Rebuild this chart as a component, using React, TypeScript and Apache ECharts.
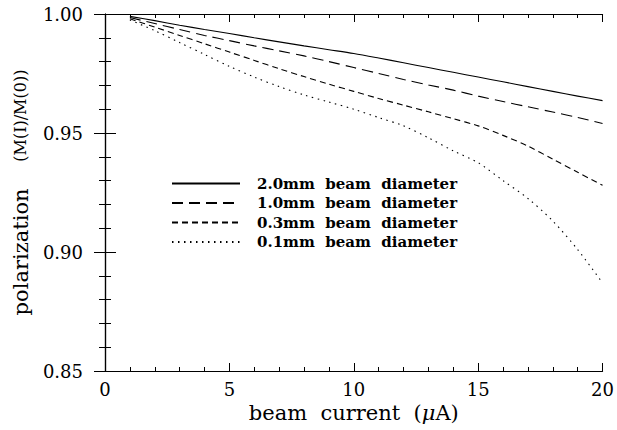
import React, { useEffect, useRef } from "react";
import * as echarts from "echarts";

const currents = [1, 2, 3, 4, 5, 6, 7, 8, 9, 10, 11, 12, 13, 14, 15, 16, 17, 18, 19, 20];
const d20 = [0.999, 0.9972, 0.9953, 0.9935, 0.9918, 0.99, 0.9883, 0.9866, 0.985, 0.9834, 0.9815, 0.9795, 0.9775, 0.9755, 0.9735, 0.9715, 0.9695, 0.9675, 0.9655, 0.9636];
const d10 = [0.9985, 0.996, 0.9935, 0.991, 0.9888, 0.9866, 0.9845, 0.9824, 0.98, 0.9775, 0.975, 0.9725, 0.9702, 0.968, 0.9655, 0.9632, 0.961, 0.9588, 0.9565, 0.954];
const d03 = [0.998, 0.9945, 0.991, 0.9875, 0.984, 0.9805, 0.977, 0.9737, 0.9705, 0.9675, 0.9645, 0.9617, 0.9589, 0.956, 0.953, 0.949, 0.9445, 0.939, 0.9335, 0.928];
const d01 = [0.9975, 0.993, 0.988, 0.983, 0.978, 0.9735, 0.9695, 0.966, 0.963, 0.96, 0.9565, 0.953, 0.948, 0.9425, 0.9375, 0.93, 0.9225, 0.913, 0.901, 0.887];
const seriesNames = ["2.0mm  beam  diameter", "1.0mm  beam  diameter", "0.3mm  beam  diameter", "0.1mm  beam  diameter"];
const seriesData = [d20, d10, d03, d01];
const dashes: any[] = ["solid", [11, 6], [6, 4], [1.5, 4.5]];

const FONT = "DejaVu Serif";

export default function App() {
  const ref = useRef<HTMLDivElement>(null);
  useEffect(() => {
    const chart = echarts.init(ref.current!, null, { renderer: "svg" });
    const axisBase = {
      axisLine: { show: true, lineStyle: { color: "#000", width: 1.2 } },
      splitLine: { show: false },
    };
    chart.setOption({
      animation: false,
      backgroundColor: "#fff",
      grid: { left: 105, right: 11, top: 14, bottom: 59 },
      legend: {
        orient: "vertical",
        left: 166,
        top: 171,
        itemWidth: 68,
        itemHeight: 10,
        itemGap: 4.5,
        data: seriesNames,
        itemStyle: { opacity: 0 },
        textStyle: {
          fontFamily: FONT,
          fontWeight: "bold",
          fontSize: 15,
          color: "#000",
          padding: [0, 0, 0, 12],
        },
      },
      xAxis: [
        {
          ...axisBase,
          type: "value",
          min: 0,
          max: 20,
          interval: 5,
          name: "beam  current  ({i|μ}A)",
          nameLocation: "middle",
          nameGap: 31,
          nameTextStyle: {
            fontFamily: FONT,
            fontSize: 21,
            color: "#000",
            rich: { i: { fontFamily: FONT, fontStyle: "italic", fontSize: 21, color: "#000" } },
          },
          axisTick: { show: true, inside: true, length: 8, lineStyle: { color: "#000" } },
          minorTick: { show: true, splitNumber: 5, length: 4, lineStyle: { color: "#000" } },
          axisLabel: { fontFamily: FONT, fontSize: 18, color: "#000", margin: 9 },
        },
        {
          ...axisBase,
          type: "value",
          position: "top",
          min: 0,
          max: 20,
          interval: 5,
          axisTick: { show: true, inside: true, length: 8, lineStyle: { color: "#000" } },
          minorTick: { show: true, splitNumber: 5, length: 4, lineStyle: { color: "#000" } },
          axisLabel: { show: false },
        },
      ],
      yAxis: [
        {
          ...axisBase,
          type: "value",
          min: 0.85,
          max: 1.0,
          interval: 0.05,
          name: "polarization    {s|(M(I)/M(0))}",
          nameLocation: "middle",
          nameGap: 74,
          nameTextStyle: {
            fontFamily: FONT,
            fontSize: 21,
            color: "#000",
            rich: { s: { fontFamily: FONT, fontSize: 16, color: "#000" } },
          },
          axisTick: { show: true, inside: true, length: 11, lineStyle: { color: "#000" } },
          minorTick: { show: true, splitNumber: 5, length: 6, lineStyle: { color: "#000" } },
          axisLabel: {
            fontFamily: FONT,
            fontSize: 18,
            color: "#000",
            margin: 22,
            formatter: (v: number) => v.toFixed(2),
          },
        },
        {
          ...axisBase,
          type: "value",
          position: "right",
          min: 0.85,
          max: 1.0,
          interval: 0.05,
          axisTick: { show: true, inside: true, length: 11, lineStyle: { color: "#000" } },
          minorTick: { show: true, splitNumber: 5, length: 6, lineStyle: { color: "#000" } },
          axisLabel: { show: false },
        },
      ],
      series: seriesNames.map((name, i) => ({
        name,
        type: "line",
        showSymbol: false,
        symbol: "none",
        smooth: 0.3,
        data: currents.map((c, j) => [c, seriesData[i][j]]),
        lineStyle: { color: "#000", width: 1.1, type: dashes[i] },
        itemStyle: { color: "#000" },
      })),
    });
    return () => chart.dispose();
  }, []);
  return (
    <div
      ref={ref}
      style={{ position: "absolute", left: 0, top: 0, width: 617, height: 430, background: "#fff" }}
    />
  );
}
